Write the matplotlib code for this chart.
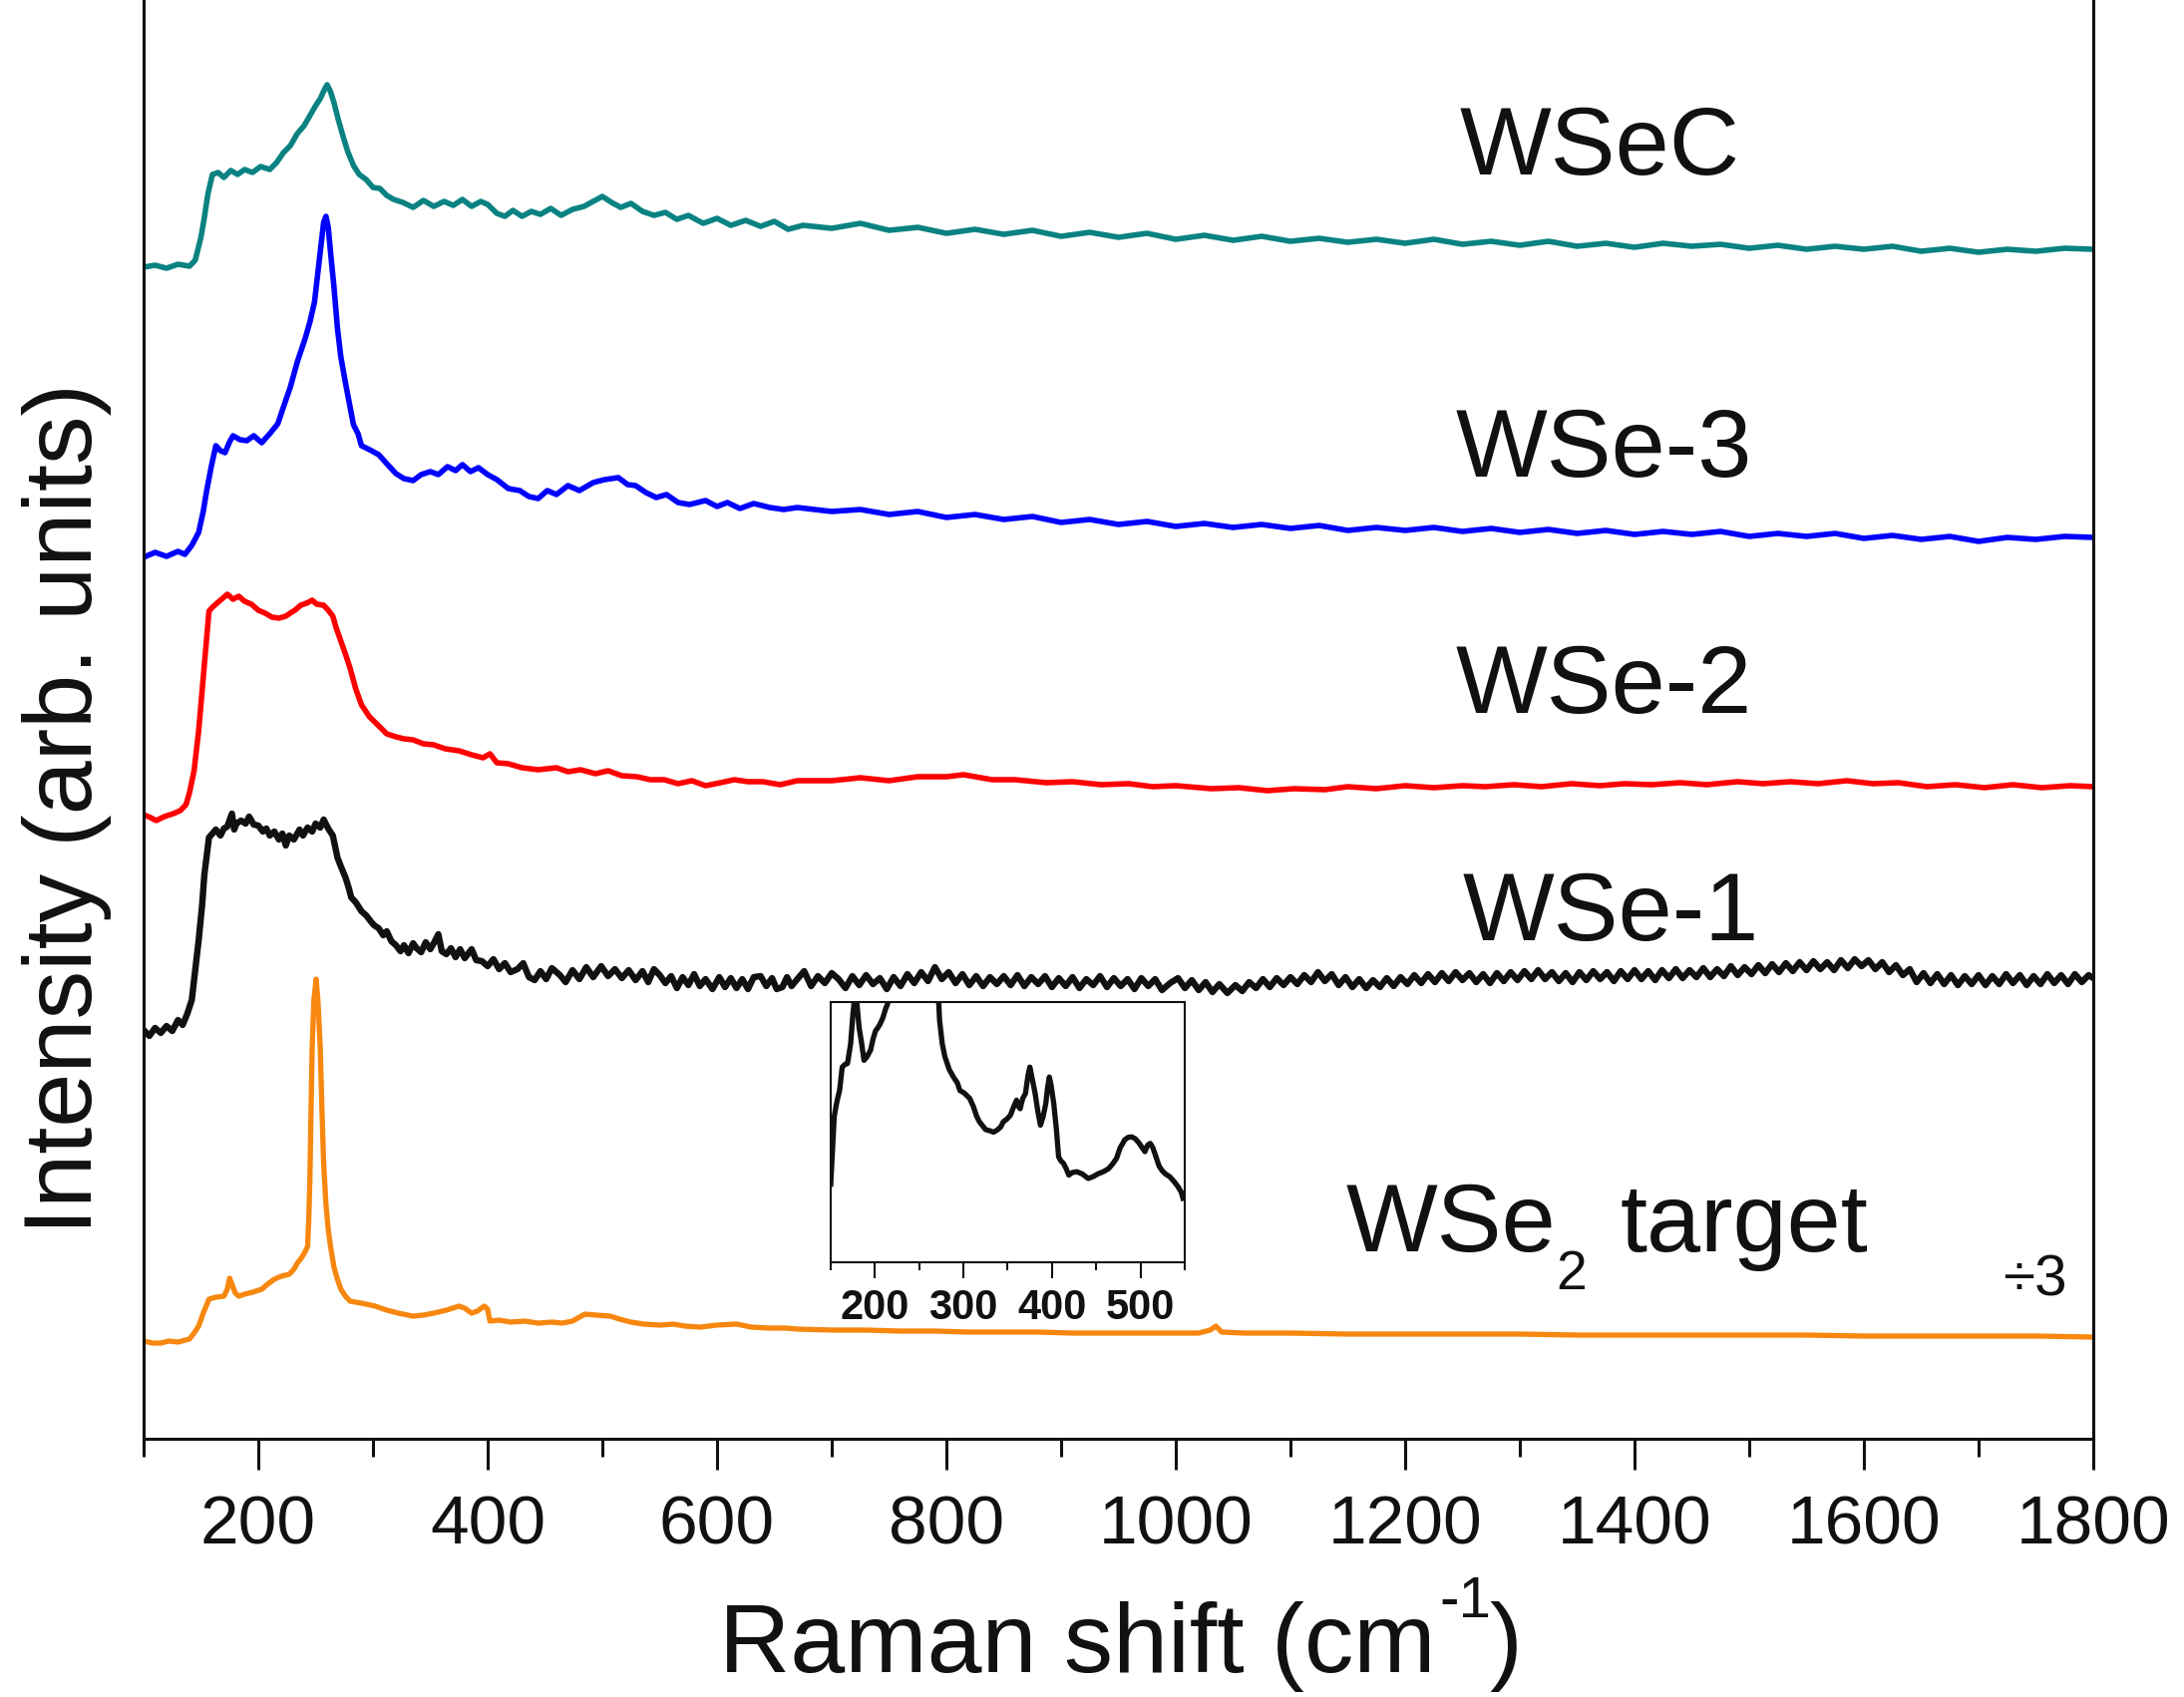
import numpy as np
import matplotlib
matplotlib.use("Agg")
import matplotlib.pyplot as plt
from matplotlib.ticker import MultipleLocator, FixedLocator

plt.rcParams['font.family'] = ['Liberation Sans', 'DejaVu Sans']

# ---------------- data (Raman shift cm-1, intensity arb. units incl. stacking offset) -------------
wsec = [(100,1175),(110,1177),(120,1174),(130,1178),(140,1176),(145,1182),(150,1205),(153,1225),(156,1248),
        (160,1268),(165,1270),(170,1265),(176,1272),(182,1268),(188,1273),(195,1270),(202,1276),(210,1273),
        (216,1280),(222,1290),(228,1297),(234,1309),(240,1317),(245,1327),(250,1337),(254,1344),(258,1354),
        (260,1358),(263,1351),(266,1340),(270,1322),(274,1306),(278,1291),(283,1277),(288,1268),(294,1263),
        (300,1255),(306,1254),(312,1247),(318,1243),(326,1240),(335,1235),(344,1242),(353,1236),(362,1241),
        (370,1237),(378,1243),(386,1236),(394,1241),(400,1238),(408,1229),(415,1226),(422,1232),(430,1226),
        (438,1231),(446,1228),(455,1234),(464,1227),(474,1233),(484,1236),(492,1241),(500,1246),(508,1240),
        (516,1235),(525,1239),(535,1231),(545,1227),(555,1230),(565,1223),(575,1227),(588,1219),(600,1224),
        (612,1217),(625,1222),(638,1216),(650,1221),(662,1213),(675,1217),(700,1214),(725,1219),(750,1212),
        (775,1215),(800,1209),(825,1213),(850,1208),(875,1212),(900,1206),(925,1210),(950,1205),(975,1209),
        (1000,1203),(1025,1207),(1050,1202),(1075,1206),(1100,1201),(1125,1204),(1150,1200),(1175,1203),
        (1200,1199),(1225,1203),(1250,1198),(1275,1201),(1300,1197),(1325,1201),(1350,1196),(1375,1199),
        (1400,1195),(1425,1199),(1450,1196),(1475,1198),(1500,1194),(1525,1197),(1550,1193),(1575,1196),
        (1600,1193),(1625,1196),(1650,1191),(1675,1194),(1700,1190),(1725,1193),(1750,1191),(1775,1194),(1800,1193)]

wse3 = [(100,884),(110,889),(120,885),(130,890),(136,887),(142,896),(148,909),(152,930),(155,951),(159,975),
        (163,996),(167,991),(171,989),(175,1000),(178,1006),(184,1002),(190,1001),(196,1006),(203,999),
        (210,1008),(217,1018),(222,1035),(228,1055),(234,1080),(241,1104),(245,1120),(249,1140),(252,1170),
        (255,1200),(257,1220),(259,1226),(261,1215),(263,1190),(266,1155),(269,1114),(272,1085),(276,1059),
        (280,1035),(283,1017),(287,1008),(290,996),(297,992),(305,987),(312,978),(320,968),(327,963),
        (335,961),(342,967),(350,970),(357,967),(365,975),(372,971),(378,977),(385,970),(392,974),(400,967),
        (408,962),(418,953),(428,951),(436,945),(444,943),(452,951),(460,947),(470,956),(480,951),(492,959),
        (502,962),(514,964),(522,957),(529,956),(538,949),(547,944),(556,947),(566,939),(576,937),(590,941),
        (600,935),(609,939),(620,933),(632,938),(646,934),(658,932),(670,934),(700,930),(725,932),(750,927),
        (775,930),(800,924),(825,927),(850,922),(875,925),(900,919),(925,922),(950,917),(975,920),(1000,915),
        (1025,918),(1050,914),(1075,917),(1100,913),(1125,916),(1150,911),(1175,914),(1200,911),(1225,914),
        (1250,910),(1275,913),(1300,909),(1325,912),(1350,908),(1375,911),(1400,907),(1425,910),(1450,907),
        (1475,910),(1500,905),(1525,908),(1550,905),(1575,908),(1600,903),(1625,906),(1650,902),(1675,905),
        (1700,900),(1725,904),(1750,902),(1775,905),(1800,904)]

wse2 = [(100,626),(106,623),(111,620),(118,624),(126,627),(132,630),(137,636),(140,648),(144,670),(148,710),
        (151,750),(154,790),(157,830),(160,834),(163,837),(168,842),(173,847),(178,842),(183,845),(188,840),
        (194,837),(200,831),(206,828),(212,824),(218,823),(224,825),(229,829),(232,831),(237,836),(242,838),
        (247,841),(251,837),(257,836),(261,831),(265,825),(268,813),(272,800),(276,787),(280,773),(285,752),
        (290,736),(297,724),(305,715),(312,707),(320,704),(327,702),(335,701),(344,697),(353,696),(363,692),
        (375,690),(386,686),(396,683),(402,687),(408,678),(418,677),(430,673),(444,671),(460,673),(470,669),
        (481,671),(494,667),(505,670),(517,665),(530,664),(542,661),(554,661),(566,657),(578,660),(590,655),
        (603,658),(615,661),(627,659),(640,659),(655,656),(670,660),(700,660),(725,663),(750,660),(775,664),
        (800,664),(815,666),(840,661),(860,661),(887,658),(910,659),(935,656),(959,657),(980,654),(1000,655),
        (1031,652),(1055,653),(1080,650),(1103,652),(1130,651),(1150,654),(1175,652),(1200,655),(1225,653),
        (1250,655),(1270,654),(1295,656),(1319,654),(1345,657),(1370,655),(1391,657),(1415,656),(1440,658),
        (1463,656),(1490,659),(1512,657),(1536,659),(1560,657),(1585,660),(1608,657),(1630,658),(1655,654),
        (1680,656),(1705,653),(1730,656),(1755,653),(1780,655),(1800,654)]

wse1 = [(100,410),(105,404),(110,412),(115,407),(120,414),(125,409),(130,420),(134,415),(138,426),(142,440),
        (145,470),(148,500),(151,535),(153,566),(157,603),(160,607),(163,611),(167,605),(170,612),(173,614),
        (177,627),(179,611),(181,617),(185,620),(189,617),(192,624),(196,616),(200,615),(204,609),(207,612),
        (210,605),(214,609),(218,601),(221,607),(224,595),(227,605),(231,601),(236,611),(239,605),(243,613),
        (247,609),(250,617),(254,613),(257,621),(261,612),(265,605),(269,583),(272,574),(276,563),(279,552),
        (281,543),(285,538),(290,529),(294,525),(298,519),(301,515),(305,512),(309,505),(312,509),(316,499),
        (320,495),(324,489),(327,495),(331,487),(335,497),(338,492),(342,488),(346,498),(350,491),(353,497),
        (357,506),(360,489),(364,486),(368,492),(372,483),(376,491),(380,482),(386,491),(390,480),(395,479),
        (400,474),(405,481),(410,471),(415,477),(420,468),(426,471),(431,477),(436,463),(441,460),(446,469),
        (451,461),(456,472),(463,465),(468,458),(474,470),(480,461),(486,473),(492,463),(499,474),(505,464),
        (511,471),(517,462),(523,470),(529,460),(535,469),(540,458),(545,471),(550,465),(555,457),(560,464),
        (565,452),(570,463),(575,455),(580,466),(585,454),(590,461),(596,451),(602,463),(607,453),(612,462),
        (617,452),(622,461),(627,451),(632,463),(638,464),(643,454),(648,462),(652,451),(657,453),(661,463),
        (665,454),(670,461),(676,469),(682,454),(688,464),(694,457),(700,467),(706,461),(712,452),(718,464),
        (724,455),(730,465),(736,456),(742,462),(748,451),(754,463),(760,454),(766,466),(772,457),(778,468),
        (784,459),(790,473),(796,461),(802,468),(808,457),(814,466),(820,455),(826,464),(832,454),(838,463),
        (844,456),(850,464),(856,455),(862,465),(868,454),(874,463),(880,456),(886,464),(892,453),(898,462),
        (904,454),(910,463),(916,452),(922,461),(928,455),(934,464),(940,453),(946,462),(952,454),(958,461),
        (964,451),(970,462),(976,454),(982,461),(988,450),(995,457),(1002,462),(1008,452),(1014,460),(1020,450),
        (1026,458),(1032,448),(1038,456),(1045,447),(1052,455),(1058,449),(1064,458),(1070,452),(1076,461),
        (1082,453),(1088,462),(1094,455),(1100,463),(1106,456),(1112,465),(1118,458),(1124,468),(1130,459),
        (1136,466),(1142,455),(1148,463),(1154,453),(1160,461),(1166,452),(1172,460),(1178,453),(1184,462),
        (1190,454),(1196,463),(1202,456),(1208,465),(1214,457),(1220,466),(1226,458),(1232,467),(1238,459),
        (1244,468),(1250,460),(1256,467),(1262,458),(1268,466),(1274,457),(1280,467),(1286,459),(1292,468),
        (1298,460),(1304,469),(1310,461),(1316,470),(1322,461),(1328,468),(1334,459),(1340,467),(1346,458),
        (1352,468),(1358,460),(1364,469),(1370,461),(1376,468),(1382,459),(1388,469),(1394,461),(1400,470),
        (1406,461),(1412,469),(1418,460),(1424,470),(1430,462),(1436,471),(1442,462),(1448,470),(1454,463),
        (1460,472),(1466,463),(1472,471),(1478,464),(1484,474),(1490,465),(1496,473),(1502,466),(1508,475),
        (1514,467),(1520,476),(1526,468),(1532,477),(1538,469),(1544,478),(1550,470),(1556,479),(1562,471),
        (1568,478),(1574,470),(1580,480),(1586,472),(1592,481),(1598,474),(1604,480),(1610,471),(1616,478),
        (1622,468),(1628,475),(1634,465),(1640,471),(1646,458),(1652,467),(1658,457),(1664,466),(1670,456),
        (1676,465),(1682,455),(1688,464),(1694,456),(1700,465),(1706,455),(1712,464),(1718,456),(1724,466),
        (1730,457),(1736,465),(1742,455),(1748,464),(1754,456),(1760,466),(1766,457),(1772,465),(1778,456),
        (1784,466),(1790,458),(1796,465),(1800,462)]

target = [(100,98),(108,96),(115,96),(122,98),(130,97),(140,100),(144,106),(148,113),(152,126),(157,140),
          (163,142),(170,143),(173,150),(175,161),(177,155),(180,146),(183,143),(188,145),(195,147),(203,150),
          (208,155),(214,160),(220,163),(227,165),(231,170),(234,176),(238,182),(241,188),(243,193),(244,220),
          (245,260),(246,330),(247,393),(248.5,440),(250.4,461),(252,440),(254,393),(255.5,330),(257,276),
          (259,235),(261,210),(263,193),(266,172),(269,160),(272,150),(276,143),(280,138),(290,136),(302,133),
          (312,129),(322,126),(335,123),(344,124),(353,126),(364,129),(375,133),(380,131),(386,126),(391,128),
          (397,133),(400,130),(402,118),(410,119),(420,117),(432,118),(444,116),(456,117),(465,116),(474,118),
          (480,122),(485,125),(495,124),(507,123),(515,120),(525,117),(536,115),(550,114),(562,115),(572,113),
          (585,112),(600,114),(617,115),(630,112),(645,111),(660,111),(670,110),(700,109),(730,109),(760,108),
          (790,108),(820,107),(850,107),(880,107),(910,106),(940,106),(970,106),(1000,106),(1020,106),(1030,109),
          (1035,113),(1040,107),(1060,106),(1100,106),(1150,105),(1200,105),(1250,105),(1300,105),(1350,104),
          (1400,104),(1450,104),(1500,104),(1550,104),(1600,103),(1650,103),(1700,103),(1750,103),(1800,102)]

# inset: WSe2 target, low-wavenumber region (normalised intensity)
inset_spec = [(150,0.30),(152,0.43),(154,0.56),(156,0.60),(157.5,0.625),(160,0.66),(163,0.75),(166,0.76),
              (169,0.764),(172.5,0.84),(175,0.95),(178,1.05),(180,0.98),(182,0.904),(185,0.84),(187.6,0.776),
              (191,0.79),(195,0.815),(198,0.86),(200.7,0.89),(203,0.90),(206,0.917),(209,0.94),(212,0.974),
              (214,0.99),(216,1.02),(240,2.5),(260,2.5),(272,1.0),(273,0.93),(276,0.84),(279,0.79),(284,0.74),
              (289,0.71),(293,0.69),(296,0.66),(301,0.65),(307,0.63),(311,0.60),(315,0.56),(318,0.54),
              (321,0.527),(325,0.51),(330,0.505),(334,0.50),(338,0.508),(342,0.52),(345,0.54),(349,0.55),
              (353,0.565),(357,0.60),(360,0.623),(362,0.60),(364,0.59),(367,0.63),(370,0.648),(373,0.72),
              (375,0.75),(378,0.70),(381,0.648),(384,0.58),(387,0.527),(390,0.56),(393,0.61),(395,0.67),
              (397,0.712),(399,0.68),(402,0.61),(405,0.51),(407.5,0.405),(410,0.39),(413,0.38),(416,0.36),
              (419,0.335),(423,0.345),(428,0.348),(434,0.34),(441,0.322),(447,0.33),(452,0.34),(458,0.348),
              (464,0.36),(469,0.38),(473,0.40),(477,0.44),(480,0.457),(482,0.47),(486,0.48),(490,0.482),
              (494,0.475),(498,0.46),(502,0.44),(505,0.425),(508,0.45),(511,0.457),(514,0.44),(518,0.40),
              (521,0.37),(524,0.354),(528,0.34),(533,0.329),(538,0.31),(542.5,0.29),(546,0.27),(548,0.246)]

series = [wsec, wse3, wse2, wse1, target]
colors = ['#0a8282', '#0000ff', '#ff0000', '#111111', '#f7870f']
widths = [4.0, 4.0, 4.0, 4.6, 3.8]
labels = ['WSeC', 'WSe-3', 'WSe-2', 'WSe-1']
xticks = [200, 400, 600, 800, 1000, 1200, 1400, 1600, 1800]
inset_xticks = [200, 300, 400, 500]

# ---------------- figure -------------
W, H = 2190, 1702
fig = plt.figure(figsize=(W / 100, H / 100), dpi=100)
L, R, B, T = 144, 2099, 1443, 0
ax = fig.add_axes([L / W, 1 - B / H, (R - L) / W, (B - T) / H])

for data, c, lw in zip(series, colors, widths):
    a = np.array(data, dtype=float)
    ax.plot(a[:, 0], a[:, 1], color=c, lw=lw, solid_joinstyle='round', solid_capstyle='round')

ax.set_xlim(100, 1800)
ax.set_ylim(0, 1443)
ax.set_yticks([])
ax.xaxis.set_major_locator(FixedLocator(xticks))
ax.xaxis.set_minor_locator(MultipleLocator(100))
ax.tick_params(axis='x', which='major', direction='out', length=22, width=2.2,
               labelsize=50, pad=18, colors='#111111')
ax.tick_params(axis='x', which='minor', direction='out', length=13, width=2.2, colors='#111111')
for s in ['left', 'right', 'bottom']:
    ax.spines[s].set_linewidth(2.2)
    ax.spines[s].set_color('#111111')
ax.spines['top'].set_visible(False)

# sample labels (axes-fraction positions, baseline-aligned)
def axfrac(px, py):
    return (px - L) / (R - L), (B - py) / (B - T)

lab_pos = [(1464, 175), (1460, 478), (1460, 715), (1467, 943)]
for lab, (px, py) in zip(labels, lab_pos):
    fx, fy = axfrac(px, py)
    ax.text(fx, fy, lab, transform=ax.transAxes, fontsize=70, ha='left', va='baseline', color='#111111')

for txt, (px, py), fs in [('WSe', (1350, 1255), 70), ('2', (1560, 1293), 40), ('target', (1625, 1255), 70),
                          ('\u00f73', (2008, 1300), 42)]:
    fx, fy = axfrac(px, py)
    ax.text(fx, fy, txt, transform=ax.transAxes, fontsize=fs, ha='left', va='baseline', color='#111111')

# axis titles
fig.text(721 / W, 1 - 1677 / H, 'Raman shift (cm', fontsize=71, ha='left', va='baseline', color='#111111')
fig.text(1443 / W, 1 - 1622 / H, '-1', fontsize=42, ha='left', va='baseline', color='#111111')
fig.text(1493 / W, 1 - 1677 / H, ')', fontsize=71, ha='left', va='baseline', color='#111111')
fig.text(67 / W, 1 - 811 / H, 'Intensity (arb. units)', fontsize=70, rotation=90,
         ha='center', va='center', color='#111111')

# inset
iL, iR, iT, iB = 833, 1188, 1005, 1266
axi = fig.add_axes([iL / W, 1 - iB / H, (iR - iL) / W, (iB - iT) / H])
a = np.array(inset_spec)
axi.plot(a[:, 0], a[:, 1], color='#111111', lw=3.8, solid_joinstyle='round')
axi.set_xlim(150, 550)
axi.set_ylim(0, 1)
axi.set_yticks([])
axi.xaxis.set_major_locator(FixedLocator(inset_xticks))
axi.xaxis.set_minor_locator(FixedLocator([150, 250, 350, 450, 550]))
axi.tick_params(axis='x', which='major', direction='out', length=11.5, width=1.5, pad=7,
                labelsize=30, colors='#111111')
axi.tick_params(axis='x', which='minor', direction='out', length=6, width=1.5, colors='#111111')
for lab in axi.get_xticklabels():
    lab.set_fontweight('bold')
for s in axi.spines.values():
    s.set_linewidth(1.5)
    s.set_color('#111111')

fig.savefig('out.png', dpi=100)
